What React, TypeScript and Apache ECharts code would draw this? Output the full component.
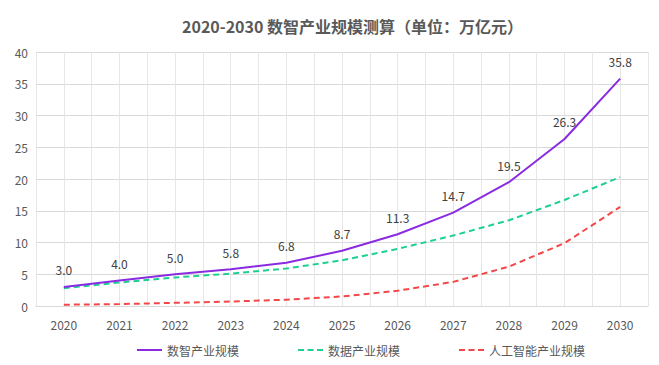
import React, { useEffect, useRef } from "react";
import * as echarts from "echarts";

const years = ["2020", "2021", "2022", "2023", "2024", "2025", "2026", "2027", "2028", "2029", "2030"];
const digitalIntel = [3.0, 4.0, 5.0, 5.8, 6.8, 8.7, 11.3, 14.7, 19.5, 26.3, 35.8];
const dataIndustry = [2.8, 3.7, 4.5, 5.1, 5.9, 7.2, 9.0, 11.1, 13.5, 16.7, 20.3];
const aiIndustry = [0.2, 0.3, 0.5, 0.7, 1.0, 1.5, 2.4, 3.8, 6.2, 9.9, 15.6];
const seriesNames = ["数智产业规模", "数据产业规模", "人工智能产业规模"];
const titleText = "2020-2030 数智产业规模测算（单位：万亿元）";

const FONT = "'Noto Sans CJK SC', 'Open Sans', sans-serif";
const SOLID_ICON = "path://M0,0h25v2h-25z";
const DASH_ICON = "path://M0,0h6v2h-6zM9.5,0h6v2h-6zM19,0h6v2h-6z";

export default function App() {
  const ref = useRef<HTMLDivElement>(null);
  useEffect(() => {
    if (!ref.current) return;
    const chart = echarts.init(ref.current, undefined, { renderer: "svg" });
    chart.setOption({
      animation: false,
      textStyle: { fontFamily: FONT },
      title: {
        text: titleText,
        left: 177,
        top: 13,
        textStyle: { fontSize: 16, fontWeight: "bold", color: "#595959", fontFamily: FONT },
      },
      grid: { left: 36, right: 11, top: 52, bottom: 59 },
      legend: {
        left: 132,
        top: 339,
        itemWidth: 25,
        itemHeight: 2,
        itemGap: 59,
        textStyle: { fontSize: 12, color: "#595959" },
        data: [
          { name: seriesNames[0], icon: SOLID_ICON },
          { name: seriesNames[1], icon: DASH_ICON },
          { name: seriesNames[2], icon: DASH_ICON },
        ],
      },
      xAxis: [
        {
          type: "category",
          data: years,
          boundaryGap: true,
          axisLine: { show: true, lineStyle: { color: "#d9d9d9" } },
          axisTick: { show: false },
          axisLabel: { color: "#595959", fontSize: 12, margin: 12 },
          splitLine: { show: false },
        },
        {
          type: "value",
          min: 0,
          max: 22,
          interval: 1,
          position: "top",
          axisLine: { show: false },
          axisTick: { show: false },
          axisLabel: { show: false },
          splitLine: { show: true, lineStyle: { color: "#e6e6e6", width: 1 } },
        },
      ],
      yAxis: {
        type: "value",
        min: 0,
        max: 40,
        interval: 5,
        axisLine: { show: false },
        axisTick: { show: false },
        axisLabel: { color: "#595959", fontSize: 12, margin: 8 },
        splitLine: { lineStyle: { color: "#d9d9d9" } },
      },
      series: [
        {
          name: seriesNames[0],
          type: "line",
          data: digitalIntel,
          symbol: "circle",
          symbolSize: 0,
          showSymbol: true,
          lineStyle: { color: "#8a2be2", width: 2 },
          itemStyle: { color: "#8a2be2" },
          label: {
            show: true,
            position: "top",
            distance: 11,
            fontSize: 12,
            color: "#404040",
            formatter: (p: any) => Number(p.value).toFixed(1),
          },
          z: 3,
        },
        {
          name: seriesNames[1],
          type: "line",
          data: dataIndustry,
          symbol: "none",
          lineStyle: { color: "#1ed08f", width: 2, type: [6, 4] },
          itemStyle: { color: "#1ed08f" },
          z: 2,
        },
        {
          name: seriesNames[2],
          type: "line",
          data: aiIndustry,
          symbol: "none",
          lineStyle: { color: "#f44848", width: 2, type: [6, 4] },
          itemStyle: { color: "#f44848" },
          z: 2,
        },
      ],
    });
    return () => chart.dispose();
  }, []);
  return <div ref={ref} style={{ width: 659, height: 365, margin: -8 }} />;
}
